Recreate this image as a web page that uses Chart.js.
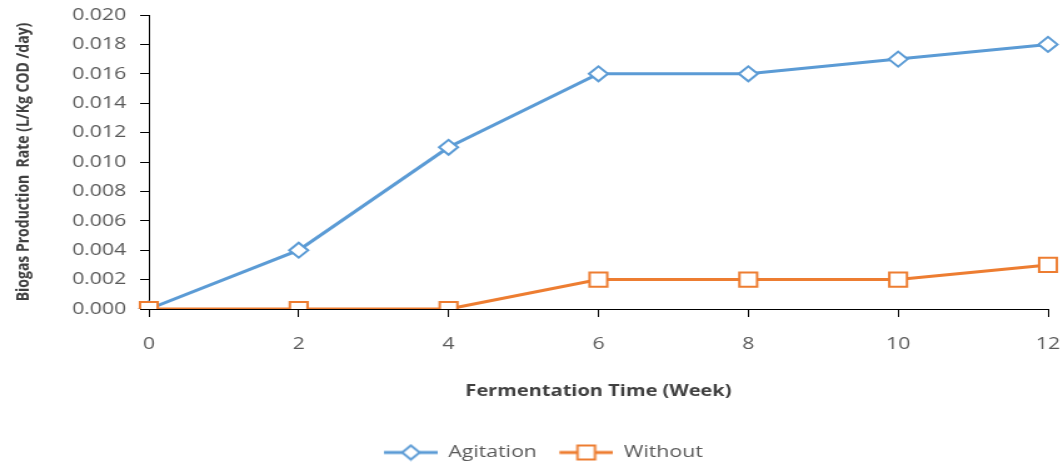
<!DOCTYPE html>
<html>
<head>
<meta charset="utf-8">
<script src="https://cdn.jsdelivr.net/npm/chart.js@4.4.1/dist/chart.umd.min.js"></script>
<style>
  html, body { margin: 0; padding: 0; background: #fff; overflow: hidden; }
  #wrap { width: 850px; height: 463px; transform: scaleX(1.2506); transform-origin: 0 0; }
</style>
</head>
<body>
<div id="wrap"><canvas id="chart" width="850" height="463"></canvas></div>
<script>
// data
const weeks = ["0", "2", "4", "6", "8", "10", "12"];
const agitation = [0, 0.004, 0.011, 0.016, 0.016, 0.017, 0.018];
const without = [0, 0, 0, 0.002, 0.002, 0.002, 0.003];

const blue = "#5B9BD5";
const orange = "#ED7D31";
const grey = "#595959";

// legend icon: a short line with the marker on it (Excel style),
// with some empty room on the left to space the items out
function legendIcon(color, shape) {
  const c = document.createElement("canvas");
  c.width = 53; c.height = 18;
  const ctx = c.getContext("2d");
  ctx.strokeStyle = color;
  ctx.lineWidth = 3;
  ctx.beginPath(); ctx.moveTo(10, 9); ctx.lineTo(53, 9); ctx.stroke();
  ctx.fillStyle = "#fff";
  ctx.lineWidth = 2;
  ctx.beginPath();
  if (shape === "diamond") {
    ctx.moveTo(31.5, 2); ctx.lineTo(38.5, 9); ctx.lineTo(31.5, 16); ctx.lineTo(24.5, 9); ctx.closePath();
  } else {
    ctx.rect(24.5, 2, 14, 14);
  }
  ctx.fill(); ctx.stroke();
  return c;
}

const ctx = document.getElementById("chart").getContext("2d");
new Chart(ctx, {
  type: "line",
  data: {
    labels: weeks,
    datasets: [
      {
        label: "Agitation",
        data: agitation,
        borderColor: blue,
        borderWidth: 3,
        pointStyle: "rectRot",
        pointRadius: 7.5,
        pointBorderWidth: 2,
        pointBackgroundColor: "#fff",
        pointBorderColor: blue,
        tension: 0,
        order: 1
      },
      {
        label: "Without",
        data: without,
        borderColor: orange,
        borderWidth: 3,
        pointStyle: "rect",
        pointRadius: 10,
        pointBorderWidth: 2,
        pointBackgroundColor: "#fff",
        pointBorderColor: orange,
        tension: 0,
        order: 0
      }
    ]
  },
  options: {
    responsive: false,
    animation: false,
    layout: { padding: { top: 15, right: 12, left: 21, bottom: -8 } },
    plugins: {
      tooltip: { enabled: false },
      legend: {
        position: "bottom",
        labels: {
          usePointStyle: true,
          pointStyleWidth: 53,
          padding: 8,
          color: grey,
          font: { family: "Open Sans", size: 17 },
          sort: (a, b) => a.datasetIndex - b.datasetIndex,
          generateLabels: (chart) => chart.data.datasets.map((ds, i) => ({
            text: ds.label,
            datasetIndex: i,
            fontColor: grey,
            pointStyle: legendIcon(ds.borderColor, i === 0 ? "diamond" : "square"),
            strokeStyle: ds.borderColor,
            fillStyle: "#fff",
            lineWidth: 0
          }))
        }
      }
    },
    scales: {
      x: {
        afterFit: (scale) => {
          scale.height = 127;
          scale.paddingLeft = 0;
          scale.paddingRight = 0;
        },
        grid: { drawOnChartArea: false, color: "#000", tickLength: 8 },
        border: { color: "#000", width: 1 },
        ticks: { color: grey, padding: 17, maxRotation: 0, font: { family: "Open Sans", size: 17 } },
        title: {
          display: true,
          text: "Fermentation Time (Week)",
          color: "#404040",
          padding: { top: 0, bottom: 35 },
          font: { family: "Open Sans", size: 16, weight: "bold" }
        }
      },
      y: {
        min: 0,
        max: 0.02,
        afterFit: (scale) => {
          scale.width = 98;
          scale.paddingTop = 0;
          scale.paddingBottom = 0;
        },
        grid: { drawOnChartArea: false, color: "#000", tickLength: 7 },
        border: { color: "#000", width: 1 },
        ticks: {
          stepSize: 0.002,
          color: grey,
          padding: 11,
          font: { family: "Open Sans", size: 17 },
          callback: (v) => v.toFixed(3)
        },
        title: {
          display: true,
          text: "Biogas Production  Rate (L/Kg COD /day)",
          color: "#404040",
          padding: { top: -10.4, bottom: 0 },
          font: { family: "Open Sans", size: 14, weight: "bold" }
        }
      }
    }
  }
});
</script>
</body>
</html>
